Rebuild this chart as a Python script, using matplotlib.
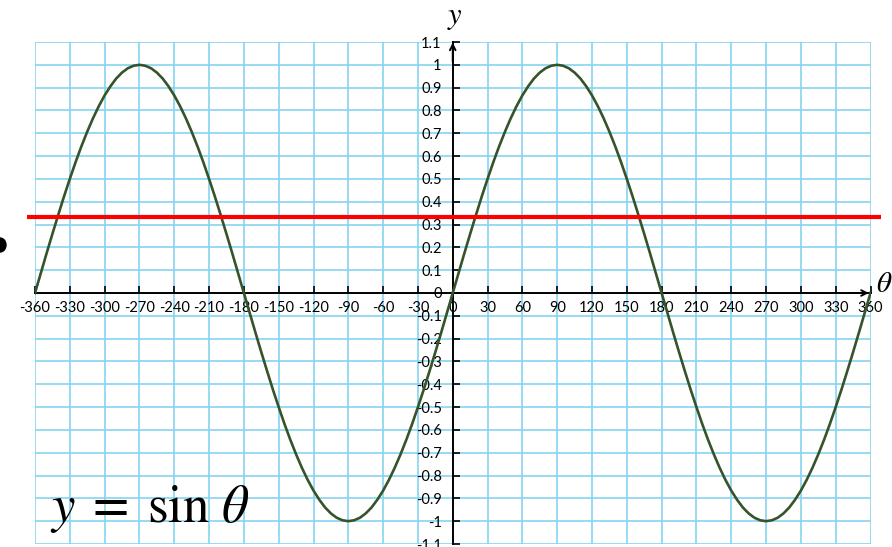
import numpy as np
import matplotlib.pyplot as plt
from matplotlib.patches import Ellipse

plt.rcParams['mathtext.fontset'] = 'stix'

# sampled curve, every 5 degrees from -360 to 360
theta = list(range(-360, 361, 5))
y_vals = [
    0, 0.087, 0.174, 0.259, 0.342, 0.423, 0.5, 0.574, 0.643, 0.707, 0.766, 0.819,
    0.866, 0.906, 0.94, 0.966, 0.985, 0.996, 1, 0.996, 0.985, 0.966, 0.94, 0.906,
    0.866, 0.819, 0.766, 0.707, 0.643, 0.574, 0.5, 0.423, 0.342, 0.259, 0.174, 0.087,
    0, -0.087, -0.174, -0.259, -0.342, -0.423, -0.5, -0.574, -0.643, -0.707, -0.766, -0.819,
    -0.866, -0.906, -0.94, -0.966, -0.985, -0.996, -1, -0.996, -0.985, -0.966, -0.94, -0.906,
    -0.866, -0.819, -0.766, -0.707, -0.643, -0.574, -0.5, -0.423, -0.342, -0.259, -0.174, -0.087,
    0, 0.087, 0.174, 0.259, 0.342, 0.423, 0.5, 0.574, 0.643, 0.707, 0.766, 0.819,
    0.866, 0.906, 0.94, 0.966, 0.985, 0.996, 1, 0.996, 0.985, 0.966, 0.94, 0.906,
    0.866, 0.819, 0.766, 0.707, 0.643, 0.574, 0.5, 0.423, 0.342, 0.259, 0.174, 0.087,
    0, -0.087, -0.174, -0.259, -0.342, -0.423, -0.5, -0.574, -0.643, -0.707, -0.766, -0.819,
    -0.866, -0.906, -0.94, -0.966, -0.985, -0.996, -1, -0.996, -0.985, -0.966, -0.94, -0.906,
    -0.866, -0.819, -0.766, -0.707, -0.643, -0.574, -0.5, -0.423, -0.342, -0.259, -0.174, -0.087,
    0]
level = 1 / 3
level_span = [-367, 369]

x_ticks = list(range(-360, 361, 30))
y_ticks = [round(v * 0.1, 1) for v in range(-11, 12)]
y_labels = ['0' if v == 0 else ('%g' % v) for v in y_ticks]

fig = plt.figure(figsize=(8.92, 5.47), dpi=100)
W, H = 892, 547
ax = fig.add_axes([35 / W, 1 - 544 / H, (870.5 - 35) / W, (544 - 42) / H])
ax.set_xlim(-360, 360)
ax.set_ylim(-1.1, 1.1)

# graph paper
gc = '#84d4f1'
for xv in x_ticks:
    ax.axvline(xv, color=gc, lw=1.2, zorder=0)
for yv in y_ticks:
    ax.axhline(yv, color=gc, lw=1.2, zorder=0)

for s in ['top', 'right']:
    ax.spines[s].set_visible(False)
ax.spines['left'].set_position(('data', 0))
ax.spines['bottom'].set_position(('data', 0))
ax.spines['left'].set_linewidth(1.4)
ax.spines['bottom'].set_linewidth(1.4)

tick_font = dict(family='Lato', size=10.5)
ax.set_xticks(x_ticks)
ax.set_xticklabels([str(v) for v in x_ticks], **tick_font)
ax.set_yticks(y_ticks)
ax.set_yticklabels(y_labels, **tick_font)
ax.tick_params(axis='x', direction='in', length=5, width=1.2, pad=6)
ax.tick_params(axis='y', direction='in', length=5, width=1.2, pad=8)

# arrow heads
ax.annotate('', xy=(361, 0), xytext=(340, 0),
            arrowprops=dict(arrowstyle='->', lw=1.4, color='black'),
            annotation_clip=False)
ax.annotate('', xy=(0, 1.11), xytext=(0, 1.0),
            arrowprops=dict(arrowstyle='->', lw=1.4, color='black'),
            annotation_clip=False)

ax.plot(theta, y_vals, color='#36532a', lw=1.9, zorder=3)
ax.plot(level_span, [level, level], color='#ff0000', lw=3, zorder=4,
        clip_on=False, solid_capstyle='butt')

fig.text(455 / W, 1 - 17 / H, '$y$', fontsize=22, ha='center', va='center')
fig.text(884 / W, 1 - 284 / H, r'$\theta$', fontsize=21, ha='center', va='center')
fig.text(50 / W, 1 - 522 / H, r'$y\;=\;\sin\,\theta$', fontsize=38,
         ha='left', va='baseline')

fig.add_artist(Ellipse((0, (H - 245) / 100), 0.12, 0.14,
                       transform=fig.dpi_scale_trans, color='black'))

fig.savefig('out.png', dpi=100)
